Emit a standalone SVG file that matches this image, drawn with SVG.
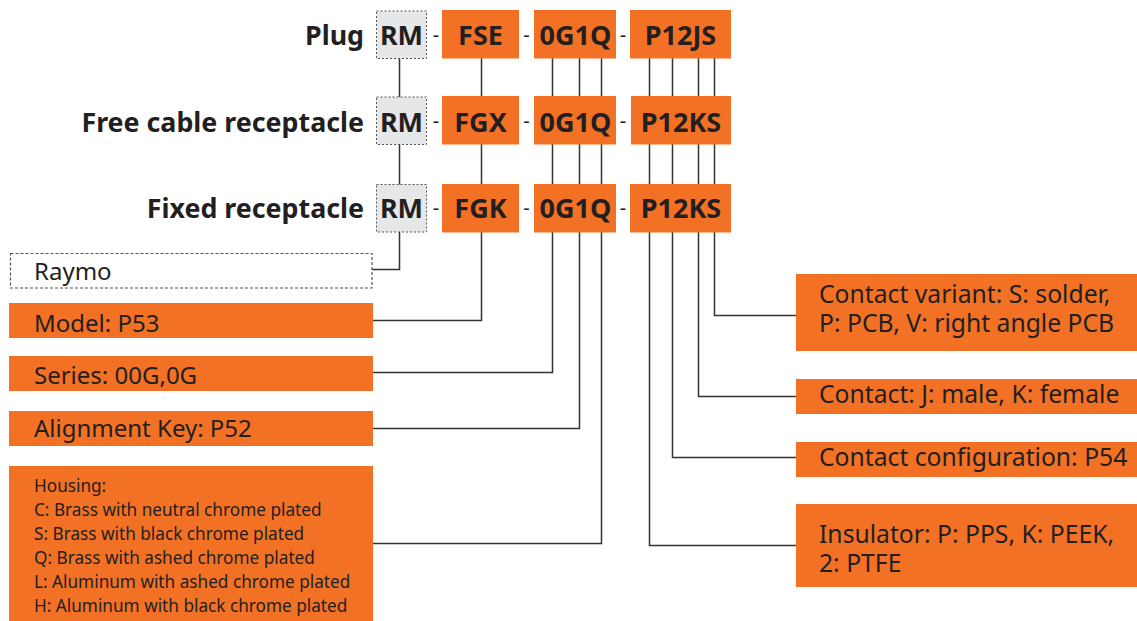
<svg xmlns="http://www.w3.org/2000/svg" width="1137" height="621" viewBox="0 0 1137 621">
<style>
.o{fill:#F37125}
.g{fill:#E6E7E8;stroke:#555;stroke-width:1;stroke-dasharray:2 2}
.w{fill:#fff;stroke:#555;stroke-width:1.2;stroke-dasharray:3 2}
.c{fill:none;stroke:#333;stroke-width:1.5}
.b{font-family:"Noto Sans",sans-serif;font-weight:bold;font-size:27px;fill:#231f20}
.h{font-family:"Noto Sans",sans-serif;font-weight:bold;font-size:26.8px;fill:#231f20;text-anchor:end}
.t{font-family:"Noto Sans",sans-serif;font-size:24px;fill:#231f20}
.r{font-family:"Noto Sans",sans-serif;font-size:24.7px;fill:#231f20}
.s{font-family:"Noto Sans",sans-serif;font-size:17.2px;fill:#231f20}
.d{font-family:"Noto Sans",sans-serif;font-size:20px;fill:#231f20}
</style>
<rect width="1137" height="621" fill="#fff"/>
<g id="connectors">
<polyline class="c" points="399.5,58 399.5,269.5 372,269.5"/>
<polyline class="c" points="481.5,58 481.5,320.5 373,320.5"/>
<polyline class="c" points="552.5,58 552.5,372.5 373,372.5"/>
<polyline class="c" points="579.5,58 579.5,428.5 373,428.5"/>
<polyline class="c" points="601.5,58 601.5,543.5 373,543.5"/>
<polyline class="c" points="714.5,58 714.5,315.5 796,315.5"/>
<polyline class="c" points="698.5,58 698.5,396.5 796,396.5"/>
<polyline class="c" points="672.5,58 672.5,457.5 796,457.5"/>
<polyline class="c" points="649.5,58 649.5,545.5 796,545.5"/>
</g>
<g id="row-plug">
<text class="h" x="364" y="45">Plug</text>
<rect class="g" x="376.5" y="11" width="50" height="47.5"/>
<text class="b" x="401.5" y="45" text-anchor="middle">RM</text>
<text class="d" x="436" y="42" text-anchor="middle">-</text>
<rect class="o" x="442" y="10" width="77" height="48.5"/>
<text class="b" x="480.5" y="45" text-anchor="middle">FSE</text>
<text class="d" x="526.5" y="42" text-anchor="middle">-</text>
<rect class="o" x="534" y="10" width="82" height="48.5"/>
<text class="b" x="575.5" y="45" text-anchor="middle">0G1Q</text>
<text class="d" x="623" y="42" text-anchor="middle">-</text>
<rect class="o" x="630" y="10" width="101" height="48.5"/>
<text class="b" x="680.5" y="45" text-anchor="middle">P12JS</text>
</g>
<g id="row-free">
<text class="h" x="364" y="131.5">Free cable receptacle</text>
<rect class="g" x="376.5" y="97" width="50" height="47.5"/>
<text class="b" x="401.5" y="131.5" text-anchor="middle">RM</text>
<text class="d" x="436" y="128" text-anchor="middle">-</text>
<rect class="o" x="442" y="96" width="77" height="48.5"/>
<text class="b" x="480.5" y="131.5" text-anchor="middle">FGX</text>
<text class="d" x="526.5" y="128" text-anchor="middle">-</text>
<rect class="o" x="534" y="96" width="82" height="48.5"/>
<text class="b" x="575.5" y="131.5" text-anchor="middle">0G1Q</text>
<text class="d" x="623" y="128" text-anchor="middle">-</text>
<rect class="o" x="631" y="96" width="100" height="48.5"/>
<text class="b" x="681" y="131.5" text-anchor="middle">P12KS</text>
</g>
<g id="row-fixed">
<text class="h" x="364" y="218">Fixed receptacle</text>
<rect class="g" x="376.5" y="184.5" width="50" height="47.5"/>
<text class="b" x="401.5" y="218" text-anchor="middle">RM</text>
<text class="d" x="436" y="215" text-anchor="middle">-</text>
<rect class="o" x="442" y="184" width="77" height="48.5"/>
<text class="b" x="480.5" y="218" text-anchor="middle">FGK</text>
<text class="d" x="526.5" y="215" text-anchor="middle">-</text>
<rect class="o" x="534" y="184" width="82" height="48.5"/>
<text class="b" x="575.5" y="218" text-anchor="middle">0G1Q</text>
<text class="d" x="623" y="215" text-anchor="middle">-</text>
<rect class="o" x="630" y="184" width="101" height="48.5"/>
<text class="b" x="681" y="218" text-anchor="middle">P12KS</text>
</g>
<g id="raymo">
<rect class="w" x="10.5" y="253.5" width="361.5" height="34.5"/>
<text class="t" x="34" y="280">Raymo</text>
</g>
<g id="model">
<rect class="o" x="9" y="303" width="364" height="35"/>
<text class="t" x="34" y="331.5">Model: P53</text>
</g>
<g id="series">
<rect class="o" x="9" y="356" width="364" height="35"/>
<text class="t" x="34" y="383.5">Series: 00G,0G</text>
</g>
<g id="alignment">
<rect class="o" x="9" y="411" width="364" height="35"/>
<text class="t" x="34" y="436.5">Alignment Key: P52</text>
</g>
<g id="housing">
<rect class="o" x="9" y="466" width="364" height="155"/>
<text class="s" x="34" y="491.5">Housing:<tspan x="34" dy="24">C: Brass with neutral chrome plated</tspan><tspan x="34" dy="24">S: Brass with black chrome plated</tspan><tspan x="34" dy="24">Q: Brass with ashed chrome plated</tspan><tspan x="34" dy="24">L: Aluminum with ashed chrome plated</tspan><tspan x="34" dy="24">H: Aluminum with black chrome plated</tspan></text>
</g>
<g id="contact-variant">
<rect class="o" x="796" y="274" width="341" height="77"/>
<text class="r" x="819" y="303">Contact variant: S: solder,<tspan x="819" dy="28.5">P: PCB, V: right angle PCB</tspan></text>
</g>
<g id="contact">
<rect class="o" x="796" y="379" width="341" height="35"/>
<text class="r" x="819" y="403">Contact: J: male, K: female</text>
</g>
<g id="contact-config">
<rect class="o" x="796" y="442" width="341" height="35"/>
<text class="r" x="819" y="466">Contact configuration: P54</text>
</g>
<g id="insulator">
<rect class="o" x="796" y="504" width="341" height="83"/>
<text class="r" x="819" y="543">Insulator: P: PPS, K: PEEK,<tspan x="819" dy="28.5">2: PTFE</tspan></text>
</g>
</svg>
